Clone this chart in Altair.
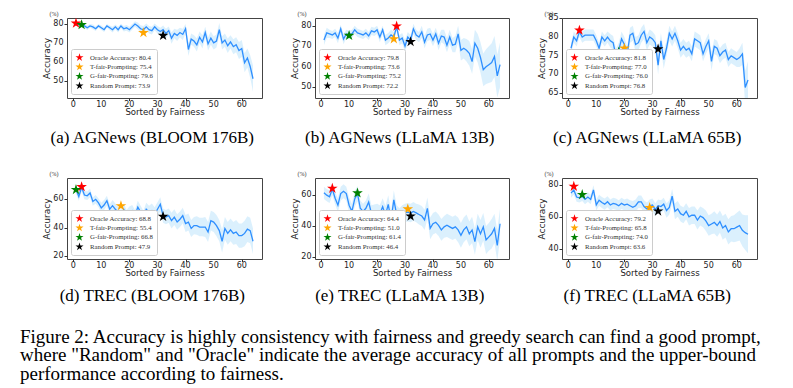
import altair as alt
import pandas as pd

X = list(range(1, 65))

# ---------- (a) AGNews (BLOOM 176B) ----------
A_MEAN = [80.0, 79.7, 79.6, 79.0, 78.0, 79.0, 78.5, 77.5, 79.0, 78.0,
          77.0, 79.0, 78.0, 77.0, 78.5, 77.0, 79.0, 77.5, 78.0, 77.0,
          78.5, 80.0, 79.0, 77.5, 77.0, 78.5, 77.0, 76.5, 78.5, 77.0,
          76.0, 77.0, 75.0, 76.5, 72.5, 75.0, 74.0, 75.5, 74.5, 77.5,
          66.5, 72.0, 71.0, 69.0, 73.0, 70.5, 75.5, 69.5, 72.5, 70.0,
          71.0, 77.0, 70.0, 71.5, 68.5, 70.5, 68.0, 69.0, 66.0, 67.0,
          59.5, 62.0, 57.5, 51.0]
A_SPREAD = [1.0, 1.0, 1.0, 1.2, 1.2, 1.0, 1.2, 1.2, 1.0, 1.2,
            1.2, 1.0, 1.2, 1.5, 1.2, 1.5, 1.2, 1.5, 1.5, 1.5,
            1.5, 1.5, 1.8, 1.8, 2.0, 1.8, 2.0, 2.0, 1.8, 2.0,
            2.0, 2.2, 2.5, 2.2, 3.0, 2.5, 3.0, 2.5, 3.0, 2.5,
            3.5, 3.0, 3.0, 3.5, 3.0, 3.5, 3.0, 3.5, 3.5, 3.5,
            3.5, 3.5, 3.5, 3.5, 3.8, 3.5, 4.0, 4.0, 4.5, 4.5,
            5.0, 5.0, 6.0, 7.0]
A_STAR_X = [1, 25, 3, 32]
A_STAR_Y = [80.4, 75.4, 79.6, 73.9]

# ---------- (b) AGNews (LLaMA 13B) ----------
B_MEAN = [73.0, 76.5, 76.0, 75.5, 76.5, 74.0, 78.5, 73.5, 76.0, 75.5,
          76.0, 78.0, 76.5, 76.0, 75.5, 76.5, 75.0, 77.5, 77.0, 78.0,
          74.5, 78.0, 73.0, 74.0, 75.5, 74.5, 79.5, 73.0, 74.0, 70.0,
          74.5, 73.0, 78.5, 75.5, 74.5, 77.0, 72.0, 75.5, 76.0, 73.0,
          76.0, 71.5, 75.0, 74.5, 70.5, 74.5, 70.5, 71.0, 76.0, 68.0,
          69.0, 68.0, 66.5, 62.5, 71.5, 69.0, 64.5, 58.5, 60.0, 61.0,
          62.0, 65.0, 55.5, 61.0]
B_SPREAD = [2.5, 2.5, 2.0, 2.0, 2.0, 2.5, 2.0, 2.5, 2.0, 2.0,
            2.0, 2.0, 2.0, 2.0, 2.0, 2.0, 2.0, 2.0, 2.0, 2.0,
            2.5, 2.0, 2.5, 2.5, 2.5, 2.5, 2.0, 2.5, 2.5, 3.0,
            2.5, 2.5, 2.5, 2.5, 2.5, 3.0, 3.0, 3.0, 3.0, 3.0,
            3.0, 3.5, 3.0, 3.5, 3.5, 3.5, 3.5, 4.0, 4.0, 5.0,
            5.0, 5.5, 6.0, 6.0, 6.5, 7.0, 7.5, 8.0, 8.5, 9.0,
            9.5, 10.0, 10.5, 11.0]
B_STAR_X = [27, 26, 10, 32]
B_STAR_Y = [79.8, 73.6, 75.2, 72.2]

# ---------- (c) AGNews (LLaMA 65B) ----------
C_MEAN = [77.0, 80.0, 79.0, 81.5, 80.0, 80.5, 80.5, 80.5, 80.5, 79.0,
          77.0, 80.0, 79.0, 80.0, 79.0, 78.5, 75.0, 76.5, 79.5, 78.0,
          75.5, 80.5, 81.0, 78.0, 78.5, 80.5, 81.5, 78.5, 80.0, 79.5,
          78.5, 72.5, 79.0, 74.0, 77.0, 81.0, 79.5, 81.0, 79.0, 76.5,
          77.5, 76.5, 77.0, 75.5, 79.5, 79.0, 78.5, 75.5, 77.5, 79.0,
          73.5, 77.5, 77.0, 75.0, 76.0, 76.5, 74.0, 75.0, 74.5, 74.0,
          74.5, 75.5, 66.5, 68.5]
C_SPREAD = [1.5, 1.5, 1.5, 1.5, 1.5, 1.5, 1.5, 1.5, 1.5, 1.5,
            1.5, 1.5, 1.5, 1.5, 1.8, 1.8, 2.0, 2.0, 2.0, 2.0,
            2.0, 2.0, 2.0, 2.0, 2.0, 2.0, 2.0, 2.0, 2.0, 2.0,
            2.0, 2.5, 2.0, 2.5, 2.0, 2.0, 2.0, 2.0, 2.0, 2.0,
            2.0, 2.0, 2.0, 2.0, 2.0, 2.0, 2.0, 2.0, 2.0, 2.0,
            2.5, 2.0, 2.0, 2.0, 2.0, 2.0, 2.0, 2.0, 2.0, 2.0,
            2.5, 3.0, 4.5, 5.0]
C_STAR_X = [4, 20, 18, 32]
C_STAR_Y = [81.8, 77.0, 76.0, 76.8]

# ---------- (d) TREC (BLOOM 176B) ----------
D_MEAN = [67.0, 62.0, 68.5, 63.0, 62.5, 64.5, 58.5, 60.0, 57.5, 54.0,
          56.0, 59.0, 53.0, 55.5, 53.0, 51.0, 48.5, 53.0, 48.5, 51.0,
          52.0, 48.5, 54.5, 51.0, 47.5, 53.0, 51.0, 52.0, 49.5, 53.0,
          56.5, 48.5, 47.5, 48.5, 45.0, 47.5, 44.0, 46.0, 48.5, 43.0,
          44.0, 39.5, 41.5, 41.5, 40.5, 40.5, 40.5, 37.0, 45.0, 44.0,
          41.5, 38.0, 30.5, 39.5, 36.0, 38.5, 36.0, 37.0, 34.5, 34.5,
          36.0, 39.0, 38.0, 30.5]
D_SPREAD = [3.0, 3.0, 3.0, 3.0, 3.0, 3.0, 3.0, 3.0, 3.0, 3.5,
            3.5, 3.5, 3.5, 4.0, 4.0, 4.0, 4.0, 4.0, 4.0, 4.0,
            4.0, 4.0, 4.5, 4.5, 4.5, 4.5, 4.5, 5.0, 5.0, 5.0,
            5.0, 5.0, 5.0, 5.0, 5.5, 5.5, 5.5, 5.5, 5.5, 6.0,
            6.0, 6.0, 6.0, 6.5, 6.5, 6.5, 7.0, 7.0, 7.0, 7.0,
            7.5, 7.5, 8.0, 8.0, 8.0, 8.0, 8.0, 8.5, 8.5, 8.5,
            9.0, 9.0, 9.0, 9.0]
D_STAR_X = [3, 17, 1, 32]
D_STAR_Y = [68.8, 55.4, 66.8, 47.9]

# ---------- (e) TREC (LLaMA 13B) ----------
E_MEAN = [61.5, 60.0, 59.0, 64.0, 58.0, 53.5, 61.0, 62.5, 61.0, 53.5,
          49.5, 57.5, 61.0, 51.5, 49.5, 51.5, 55.5, 48.0, 48.5, 49.0,
          48.0, 52.5, 47.0, 54.0, 44.0, 57.0, 47.5, 45.5, 47.5, 48.5,
          49.0, 48.5, 49.5, 48.5, 47.5, 46.5, 44.0, 51.5, 38.5, 41.5,
          42.5, 40.5, 37.5, 39.5, 40.5, 39.5, 38.5, 39.5, 37.5, 34.0,
          37.5, 39.5, 35.0, 37.5, 30.0, 39.5, 35.0, 39.5, 31.0, 33.0,
          35.0, 38.5, 27.5, 41.5]
E_SPREAD = [4.0, 4.0, 4.0, 4.0, 4.0, 4.5, 4.5, 4.5, 4.5, 5.0,
            5.0, 5.0, 5.0, 5.0, 5.0, 5.0, 5.5, 5.5, 5.5, 5.5,
            5.5, 5.5, 6.0, 6.0, 6.0, 6.0, 6.0, 6.0, 6.0, 6.0,
            6.0, 6.0, 6.0, 6.0, 6.5, 6.5, 6.5, 7.0, 7.0, 7.0,
            7.0, 7.0, 7.0, 7.0, 7.5, 7.5, 7.5, 7.5, 8.0, 8.0,
            8.0, 8.0, 8.0, 8.5, 8.5, 8.5, 9.0, 9.0, 9.0, 9.0,
            9.5, 9.5, 10.0, 10.0]
E_STAR_X = [4, 31, 13, 32]
E_STAR_Y = [64.4, 51.0, 61.4, 46.4]

# ---------- (f) TREC (LLaMA 65B) ----------
F_MEAN = [75.0, 77.0, 72.5, 72.0, 73.0, 71.0, 72.5, 71.0, 77.0, 67.5,
          70.5, 69.0, 68.0, 69.5, 67.5, 68.5, 68.0, 67.0, 68.5, 67.5,
          68.0, 67.0, 66.0, 67.0, 69.5, 69.5, 66.5, 65.0, 67.0, 67.5,
          64.5, 67.0, 66.5, 68.0, 64.0, 66.0, 73.0, 63.5, 65.0, 62.0,
          61.0, 63.5, 60.0, 61.0, 61.0, 58.0, 60.5, 59.5, 57.5, 54.5,
          55.5, 56.5, 54.5, 57.0, 53.0, 54.5, 50.5, 52.5, 52.5, 53.5,
          54.5, 51.5, 50.0, 49.0]
F_SPREAD = [3.0, 3.0, 3.0, 3.0, 3.0, 3.0, 3.0, 3.0, 3.0, 3.5,
            3.5, 3.5, 3.5, 3.5, 3.5, 3.5, 3.5, 3.5, 3.5, 3.5,
            3.5, 3.5, 4.0, 4.0, 4.0, 4.0, 4.0, 4.0, 4.0, 4.0,
            4.0, 4.0, 4.0, 4.0, 4.5, 4.5, 4.5, 5.0, 5.0, 5.0,
            5.0, 5.0, 5.5, 5.5, 5.5, 6.0, 6.0, 6.0, 6.5, 6.5,
            6.5, 7.0, 7.0, 7.0, 7.5, 7.5, 8.0, 8.0, 8.5, 9.0,
            9.5, 10.0, 11.0, 12.0]
F_STAR_X = [2, 29, 5, 32]
F_STAR_Y = [79.2, 65.8, 74.0, 63.6]

CAPTIONS = ["(a) AGNews (BLOOM 176B)", "(b) AGNews (LLaMA 13B)", "(c) AGNews (LLaMA 65B)",
            "(d) TREC (BLOOM 176B)", "(e) TREC (LLaMA 13B)", "(f) TREC (LLaMA 65B)"]
STAR_NAMES = ["Oracle Accuracy", "T-fair-Prompting", "G-fair-Prompting", "Random Prompt"]
STAR_COLORS = ["#ff0000", "#ffa500", "#008000", "#000000"]
X_TICKS = [0, 10, 20, 30, 40, 50, 60]
Y_TICKS = [[50, 60, 70, 80], [50, 60, 70, 80], [65, 70, 75, 80, 85],
           [20, 40, 60], [20, 40, 60], [40, 60, 80]]
Y_DOMAINS = [[40.8, 83.2], [44.7, 83.8], [63.7, 85.1],
             [18.0, 75.0], [18.7, 71.1], [33.4, 84.5]]
UNIT = ["(%)"]
FIG_CAPTION = [
    "Figure 2: Accuracy is highly consistency with fairness and greedy search can find a good prompt,",
    "where \"Random\" and \"Oracle\" indicate the average accuracy of all prompts and the upper-bound",
    "performance according to fairness.",
]

SERIES = [(A_MEAN, A_SPREAD, A_STAR_X, A_STAR_Y), (B_MEAN, B_SPREAD, B_STAR_X, B_STAR_Y),
          (C_MEAN, C_SPREAD, C_STAR_X, C_STAR_Y), (D_MEAN, D_SPREAD, D_STAR_X, D_STAR_Y),
          (E_MEAN, E_SPREAD, E_STAR_X, E_STAR_Y), (F_MEAN, F_SPREAD, F_STAR_X, F_STAR_Y)]

# five-pointed star marker shape (unit box -1..1)
STAR_PATH = ("M0,-1L0.2245,-0.309L0.9511,-0.309L0.3633,0.118L0.5878,0.809L0,0.382"
             "L-0.5878,0.809L-0.3633,0.118L-0.9511,-0.309L-0.2245,-0.309Z")
LINE_COLOR = "#2e8fff"
BAND_COLOR = "#87cefa"
SANS = "DejaVu Sans"
SERIF = "Liberation Serif"


def panel(i, width, height, cap_offset):
    mean, spread, sx, sy = SERIES[i]
    df = pd.DataFrame({
        "x": X,
        "mean": mean,
        "lo": [m - s for m, s in zip(mean, spread)],
        "hi": [m + s for m, s in zip(mean, spread)],
    })
    labels = [f"{n}: {v:.1f}" for n, v in zip(STAR_NAMES, sy)]
    sdf = pd.DataFrame({"x": sx, "y": sy, "label": labels})

    xs = alt.Scale(domain=[-2.2, 67.2], nice=False, zero=False)
    ys = alt.Scale(domain=Y_DOMAINS[i], nice=False, zero=False)
    xa = alt.Axis(values=X_TICKS, labels=False, tickSize=2.5, title="Sorted by Fairness",
                  titlePadding=6.5, titleFontSize=8.6)
    ya = alt.Axis(values=Y_TICKS[i], labels=False, tickSize=3, title="Accuracy",
                  titlePadding=12, titleFontSize=9)

    band = alt.Chart(df).mark_area(color=BAND_COLOR, opacity=0.3, clip=True).encode(
        x=alt.X("x:Q", scale=xs, axis=xa),
        y=alt.Y("lo:Q", scale=ys, axis=ya),
        y2="hi:Q",
    )
    line = alt.Chart(df).mark_line(color=LINE_COLOR, strokeWidth=1.3, clip=True).encode(
        x=alt.X("x:Q", scale=xs),
        y=alt.Y("mean:Q", scale=ys),
    )
    stars = alt.Chart(sdf).mark_point(shape=STAR_PATH, filled=True, size=125, opacity=1).encode(
        x=alt.X("x:Q", scale=xs),
        y=alt.Y("y:Q", scale=ys),
        color=alt.Color("label:N",
                        scale=alt.Scale(domain=labels, range=STAR_COLORS),
                        legend=alt.Legend(
                            title=None, orient="bottom-left", offset=4,
                            fillColor="white", strokeColor="#cccccc", cornerRadius=2,
                            padding=4, labelFont=SERIF, labelFontSize=6.8, labelColor="#333333",
                            labelOffset=6, symbolType=STAR_PATH, symbolSize=72,
                            symbolStrokeWidth=0, symbolOpacity=1, rowPadding=0.4,
                            labelLimit=200)),
    )
    # tick labels, placed through the panel's own scales
    xlab = alt.Chart(pd.DataFrame({"v": X_TICKS})).mark_text(
        font=SANS, fontSize=8, color="#222222", align="center", baseline="top"
    ).encode(x=alt.X("v:Q", scale=xs), y=alt.value(height + 2.5), text=alt.Text("v:Q", format="d"))
    ylab = alt.Chart(pd.DataFrame({"v": Y_TICKS[i]})).mark_text(
        font=SANS, fontSize=8, color="#222222", align="right", baseline="middle"
    ).encode(x=alt.value(-3.5), y=alt.Y("v:Q", scale=ys), text=alt.Text("v:Q", format="d"))
    unit = alt.Chart(pd.DataFrame({"t": UNIT})).mark_text(
        font=SERIF, fontSize=6, color="#333333", align="center", baseline="middle"
    ).encode(text="t:N", x=alt.value(-13), y=alt.value(-4))

    return alt.layer(band, line, stars, xlab, ylab, unit).properties(
        width=width, height=height,
        title=alt.TitleParams(CAPTIONS[i], orient="bottom", anchor="middle", frame="bounds",
                              font=SERIF, fontSize=17, fontWeight="normal", offset=cap_offset,
                              color="black"),
    )


row1 = alt.hconcat(panel(0, 195, 80, 14), panel(1, 194, 80, 14), panel(2, 195, 80, 14),
                   spacing=27)
row1 = row1.resolve_scale(color="independent").resolve_legend(color="independent")
row2 = alt.hconcat(panel(3, 195, 81, 11), panel(4, 194, 81, 11), panel(5, 195, 81, 11),
                   spacing=27)
row2 = row2.resolve_scale(color="independent").resolve_legend(color="independent")

chart = alt.vconcat(row1, row2, spacing=23).resolve_scale(color="independent").resolve_legend(
    color="independent"
).properties(
    title=alt.TitleParams(FIG_CAPTION, orient="bottom", anchor="start", font=SERIF, fontSize=19,
                          lineHeight=18.5, fontWeight="normal", offset=23, dx=-22, color="black"),
    padding={"left": 12, "top": 2, "right": 5, "bottom": 2},
    background="white",
).configure_view(
    stroke="#444444", strokeWidth=1
).configure_axis(
    grid=False, domain=False, tickColor="#333333",
    titleFont=SANS, titleFontWeight="normal", titleColor="#222222",
)

chart.save("out.html", embed_options={"renderer": "svg", "actions": False})
